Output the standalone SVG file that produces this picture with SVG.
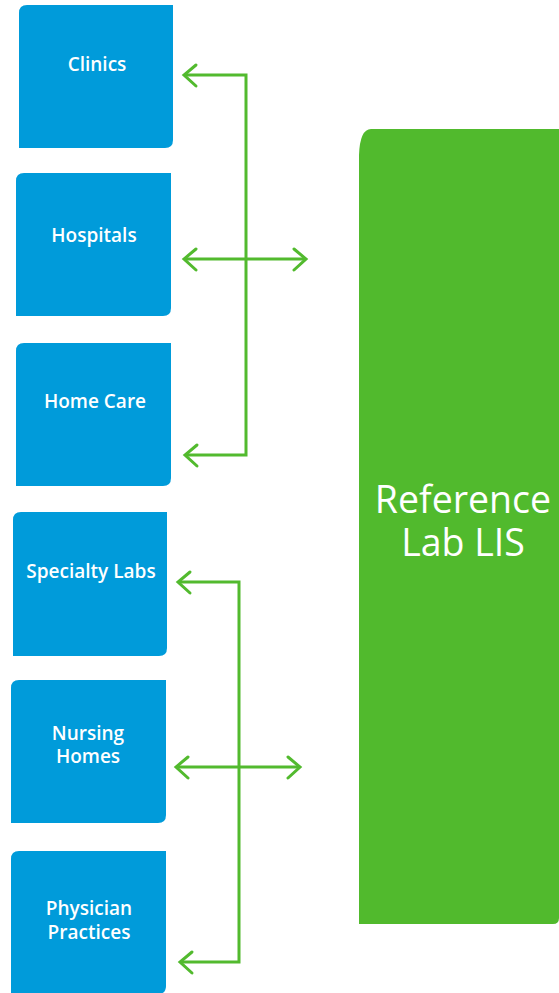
<svg xmlns="http://www.w3.org/2000/svg" width="559" height="993" viewBox="0 0 559 993">
<style>
.box{fill:#009BDA;}
.lbl{font-family:"Open Sans",Lato,"Liberation Sans",sans-serif;font-weight:600;font-size:19px;fill:#ffffff;text-anchor:middle;}
.big{font-family:"Open Sans",Lato,"Liberation Sans",sans-serif;font-weight:500;font-size:37.5px;fill:#ffffff;text-anchor:middle;}
.ln{fill:none;stroke:#52BA2E;stroke-width:3;stroke-linecap:butt;stroke-linejoin:miter;}
.hd{fill:none;stroke:#52BA2E;stroke-width:3;stroke-linecap:round;stroke-linejoin:miter;}
</style>
<rect width="559" height="993" fill="#ffffff"/>
<g id="clinics">
<path class="box" d="M27 5 H173 V140 Q173 148 165 148 H19 V13 Q19 5 27 5 Z"/>
<text class="lbl" x="97" y="71">Clinics</text>
</g>
<g id="hospitals">
<path class="box" d="M24 173 H171 V308 Q171 316 163 316 H16 V181 Q16 173 24 173 Z"/>
<text class="lbl" x="94" y="242">Hospitals</text>
</g>
<g id="home-care">
<path class="box" d="M24 343 H171 V478 Q171 486 163 486 H16 V351 Q16 343 24 343 Z"/>
<text class="lbl" x="95" y="408">Home Care</text>
</g>
<g id="specialty-labs">
<path class="box" d="M21 512 H167 V648 Q167 656 159 656 H13 V520 Q13 512 21 512 Z"/>
<text class="lbl" x="91" y="578">Specialty Labs</text>
</g>
<g id="nursing-homes">
<path class="box" d="M19 680 H166 V815 Q166 823 158 823 H11 V688 Q11 680 19 680 Z"/>
<text class="lbl" x="88" y="740">Nursing</text>
<text class="lbl" x="88" y="763">Homes</text>
</g>
<g id="physician-practices">
<path class="box" d="M19 851 H166 V986 Q166 994 158 994 H11 V859 Q11 851 19 851 Z"/>
<text class="lbl" x="89" y="915">Physician</text>
<text class="lbl" x="89" y="939">Practices</text>
</g>
<g id="reference-lab-lis">
<path d="M371 129 H559 V918 Q559 924 553 924 H359 V155 Q360 129 371 129 Z" fill="#51BA2D"/>
<text class="big" x="463" y="513">Reference</text>
<text class="big" x="463" y="556">Lab LIS</text>
</g>
<g id="connectors">
<path class="ln" d="M185 75 H246 V455 H186"/>
<path class="ln" d="M185 259 H304"/>
<path class="hd" d="M196 65 L184 75 L196 86"/>
<path class="hd" d="M196 249 L184 259 L196 270"/>
<path class="hd" d="M197 445 L185 455 L197 466"/>
<path class="hd" d="M294 249 L306 259 L294 270"/>
<path class="ln" d="M179 582 H239 V962 H181"/>
<path class="ln" d="M177 767 H298"/>
<path class="hd" d="M190 572 L178 582 L190 593"/>
<path class="hd" d="M188 757 L176 767 L188 778"/>
<path class="hd" d="M192 952 L180 962 L192 973"/>
<path class="hd" d="M288 757 L300 767 L288 778"/>
</g>
</svg>
